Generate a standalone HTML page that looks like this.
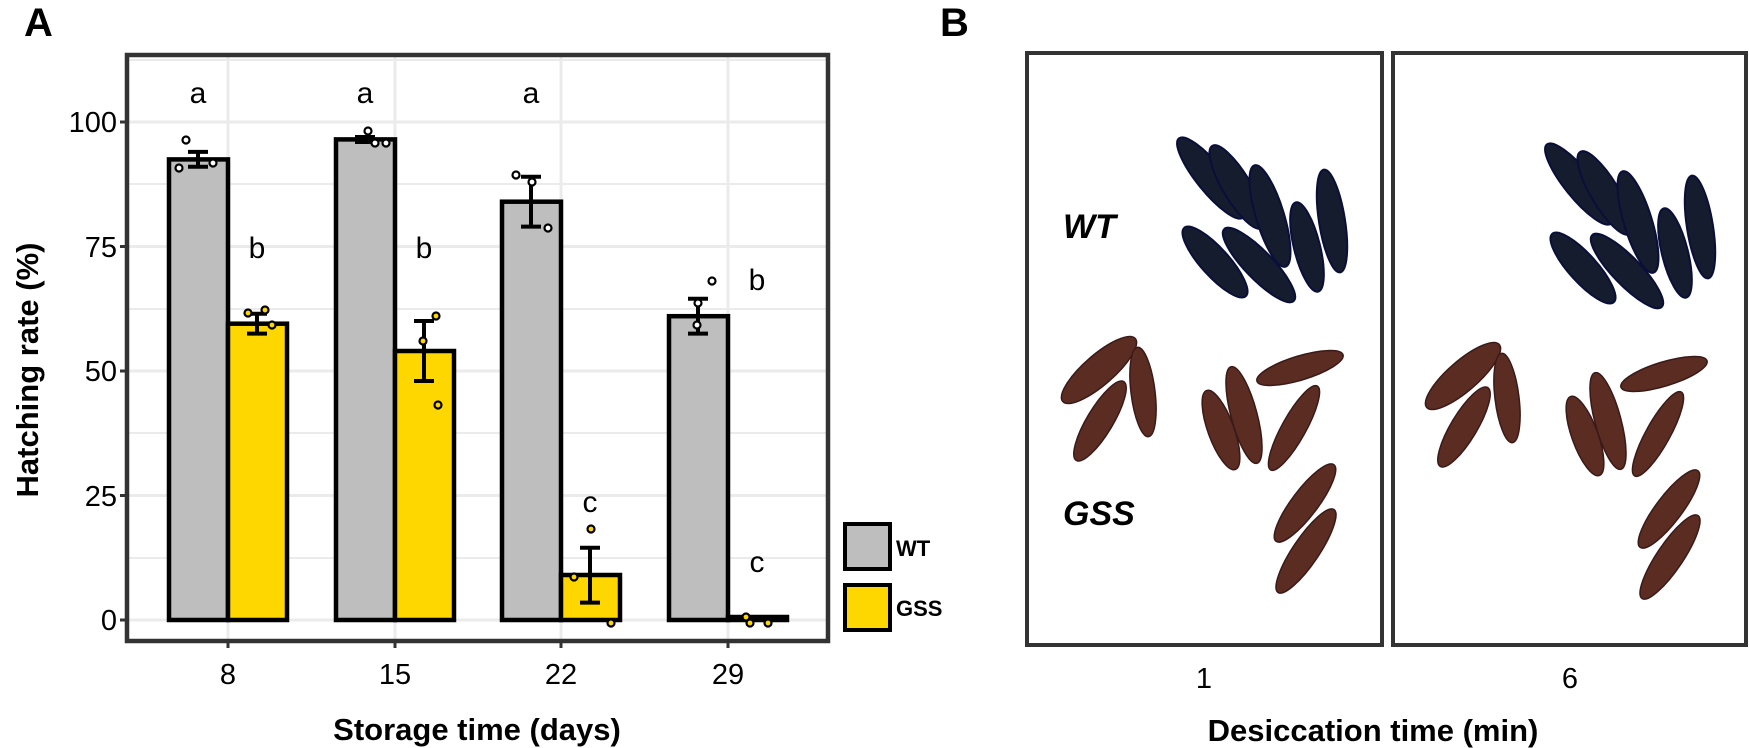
<!DOCTYPE html>
<html><head><meta charset="utf-8"><style>
html,body{margin:0;padding:0;background:#fff;}
svg{display:block;font-family:"Liberation Sans",Arial,sans-serif;}
</style></head><body>
<svg width="1749" height="748" viewBox="0 0 1749 748" xmlns="http://www.w3.org/2000/svg">
<text x="24" y="36" font-size="40" font-weight="bold">A</text>
<text x="940" y="36" font-size="40" font-weight="bold">B</text>
<g stroke="#ebebeb" stroke-width="3">
<line x1="127" x2="828" y1="620" y2="620"/><line x1="127" x2="828" y1="495.5" y2="495.5"/>
<line x1="127" x2="828" y1="371" y2="371"/><line x1="127" x2="828" y1="246.5" y2="246.5"/>
<line x1="127" x2="828" y1="122" y2="122"/>
<line x1="127" x2="828" y1="558" y2="558" stroke-width="2"/><line x1="127" x2="828" y1="433" y2="433" stroke-width="2"/>
<line x1="127" x2="828" y1="309" y2="309" stroke-width="2"/><line x1="127" x2="828" y1="184" y2="184" stroke-width="2"/>
<line x1="127" x2="828" y1="60" y2="60" stroke-width="2"/>
<line x1="228" x2="228" y1="55" y2="641"/><line x1="395" x2="395" y1="55" y2="641"/>
<line x1="561" x2="561" y1="55" y2="641"/><line x1="728" x2="728" y1="55" y2="641"/>
</g>
<g stroke="#000" stroke-width="4.5">
<rect x="169" y="159.4" width="59" height="460.6" fill="#bebebe"/>
<rect x="228" y="323.7" width="59" height="296.3" fill="#ffd700"/>
<rect x="336" y="139.4" width="59" height="480.6" fill="#bebebe"/>
<rect x="395" y="351" width="59" height="269" fill="#ffd700"/>
<rect x="502" y="201.7" width="59" height="418.3" fill="#bebebe"/>
<rect x="561" y="575" width="59" height="45" fill="#ffd700"/>
<rect x="669" y="316.2" width="59" height="303.8" fill="#bebebe"/>
<rect x="728" y="617" width="59" height="3" fill="#ffd700"/>
</g>
<g stroke="#000" stroke-width="4" fill="none">
<path d="M198 151.9V166.8M188 151.9H208M188 166.8H208"/>
<path d="M365 137V142M355 137H375M355 142H375"/>
<path d="M531 176.8V226.6M521 176.8H541M521 226.6H541"/>
<path d="M698 298.8V333.6M688 298.8H708M688 333.6H708"/>
<path d="M257 313.7V333.6M247 313.7H267M247 333.6H267"/>
<path d="M424 321V381M414 321H434M414 381H434"/>
<path d="M590 547.8V602.6M580 547.8H600M580 602.6H600"/>
</g>
<g stroke="#000" stroke-width="2.2" fill="#fff">
<circle cx="186" cy="140" r="3.5"/><circle cx="179" cy="168" r="3.5"/><circle cx="213" cy="163" r="3.5"/>
<circle cx="368" cy="131" r="3.5"/><circle cx="375" cy="143" r="3.5"/><circle cx="386" cy="143" r="3.5"/>
<circle cx="516" cy="175" r="3.5"/><circle cx="532" cy="182" r="3.5"/><circle cx="548" cy="228" r="3.5"/>
<circle cx="712" cy="281" r="3.5"/><circle cx="698" cy="303" r="3.5"/><circle cx="697" cy="325" r="3.5"/>
</g>
<g stroke="#000" stroke-width="2.2" fill="#ffd700">
<circle cx="248" cy="313" r="3.5"/><circle cx="265" cy="310" r="3.5"/><circle cx="272" cy="325" r="3.5"/>
<circle cx="436" cy="316" r="3.5"/><circle cx="423" cy="341" r="3.5"/><circle cx="438" cy="405" r="3.5"/>
<circle cx="591" cy="529" r="3.5"/><circle cx="574" cy="577" r="3.5"/><circle cx="611" cy="623" r="3.5"/>
<circle cx="746" cy="617" r="3.5"/><circle cx="750" cy="623" r="3.5"/><circle cx="768" cy="623" r="3.5"/>
</g>
<g font-size="30" text-anchor="middle">
<text x="198" y="103">a</text><text x="365" y="103">a</text><text x="531" y="103">a</text>
<text x="257" y="258">b</text><text x="424" y="258">b</text><text x="757" y="290">b</text>
<text x="590" y="512">c</text><text x="757" y="572">c</text>
</g>
<rect x="127" y="55" width="701" height="586" fill="none" stroke="#333" stroke-width="4.5"/>
<g stroke="#333" stroke-width="3">
<path d="M120 122H127M120 246.5H127M120 371H127M120 495.5H127M120 620H127"/>
<path d="M228 641V648M395 641V648M561 641V648M728 641V648"/>
</g>
<g font-size="29" text-anchor="end" fill="#000">
<text x="117" y="132">100</text><text x="117" y="257">75</text><text x="117" y="381">50</text>
<text x="117" y="506">25</text><text x="117" y="630">0</text>
</g>
<g font-size="29" text-anchor="middle">
<text x="228" y="684">8</text><text x="395" y="684">15</text><text x="561" y="684">22</text><text x="728" y="684">29</text>
</g>
<text x="477" y="740" font-size="31" font-weight="bold" text-anchor="middle">Storage time (days)</text>
<text transform="translate(38,370) rotate(-90)" font-size="31" font-weight="bold" text-anchor="middle">Hatching rate (%)</text>
<rect x="845" y="524" width="45" height="45" fill="#bebebe" stroke="#000" stroke-width="4"/>
<rect x="845" y="585" width="45" height="45" fill="#ffd700" stroke="#000" stroke-width="4"/>
<text x="896" y="556" font-size="22" font-weight="bold">WT</text>
<text x="896" y="616" font-size="22" font-weight="bold">GSS</text>
<rect x="1027" y="53" width="355" height="592" fill="#fff" stroke="#333" stroke-width="4"/>
<rect x="1393" y="53" width="353" height="592" fill="#fff" stroke="#333" stroke-width="4"/>
<defs>
<g id="wt">
<g fill="#141c2e" stroke="#0a0f3a" stroke-width="2">
<ellipse cx="1211" cy="178" rx="51" ry="14" transform="rotate(51 1211 178)"/>
<ellipse cx="1237" cy="187" rx="48" ry="14" transform="rotate(59 1237 187)"/>
<ellipse cx="1270" cy="216" rx="53" ry="14" transform="rotate(73 1270 216)"/>
<ellipse cx="1332" cy="221" rx="52" ry="13" transform="rotate(81 1332 221)"/>
<ellipse cx="1307" cy="247" rx="46" ry="13" transform="rotate(76 1307 247)"/>
<ellipse cx="1215" cy="262" rx="46" ry="14" transform="rotate(48 1215 262)"/>
<ellipse cx="1259" cy="265" rx="50" ry="14" transform="rotate(46 1259 265)"/>
</g></g>
<g id="gss">
<g fill="#5b2c22" stroke="#3a1a18" stroke-width="1.5">
<ellipse cx="1099" cy="370" rx="48" ry="15" transform="rotate(-41 1099 370)"/>
<ellipse cx="1143" cy="392" rx="45" ry="12" transform="rotate(83 1143 392)"/>
<ellipse cx="1100" cy="421" rx="46" ry="13" transform="rotate(-59 1100 421)"/>
<ellipse cx="1221" cy="430" rx="42" ry="13" transform="rotate(70 1221 430)"/>
<ellipse cx="1244" cy="415" rx="50" ry="13" transform="rotate(75 1244 415)"/>
<ellipse cx="1300" cy="368" rx="45" ry="12" transform="rotate(-17 1300 368)"/>
<ellipse cx="1294" cy="428" rx="48" ry="12" transform="rotate(-61 1294 428)"/>
<ellipse cx="1305" cy="503" rx="48" ry="13" transform="rotate(-53 1305 503)"/>
<ellipse cx="1306" cy="551" rx="50" ry="13" transform="rotate(-56 1306 551)"/>
</g></g>
</defs>
<use href="#wt"/><use href="#gss"/>
<use href="#wt" transform="translate(368,6)"/><use href="#gss" transform="translate(364,6)"/>
<g font-size="34" font-weight="bold" font-style="italic">
<text x="1063" y="238">WT</text><text x="1063" y="525">GSS</text>
</g>
<g font-size="29" text-anchor="middle">
<text x="1204" y="688">1</text><text x="1570" y="688">6</text>
</g>
<text x="1373" y="741" font-size="31" font-weight="bold" text-anchor="middle">Desiccation time (min)</text>
</svg>
</body></html>
